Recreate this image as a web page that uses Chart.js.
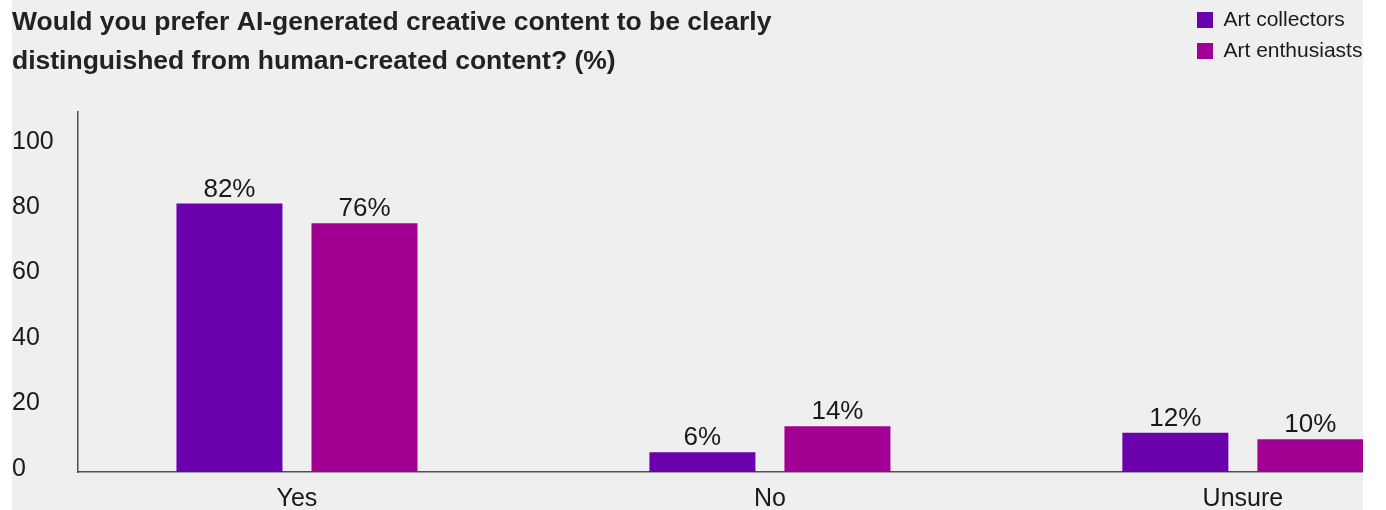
<!DOCTYPE html>
<html>
<head>
<meta charset="utf-8">
<script src="https://cdn.jsdelivr.net/npm/chart.js@4/dist/chart.umd.min.js"></script>
<style>
  html, body { margin: 0; padding: 0; background: #ffffff; }
  #panel {
    position: absolute; left: 12px; top: 0; width: 1351px; height: 510px;
    background: #efefef; overflow: hidden;
  }
  canvas { display: block; }
</style>
</head>
<body>
<div id="panel"><canvas id="chart" width="1351" height="510"></canvas></div>
<script>
// Survey answers, in percent
const categories = ['Yes', 'No', 'Unsure'];
const collectors = [82, 6, 12];
const enthusiasts = [76, 14, 10];
const seriesNames = ['Art collectors', 'Art enthusiasts'];
const titleLines = [
  'Would you prefer AI-generated creative content to be clearly',
  'distinguished from human-created content? (%)'
];

const FONT = '"Liberation Sans", Arial, Helvetica, sans-serif';
const INK = '#1a1a1a';
const AXIS = '#4f4f4f';

// Percent labels above each bar
const barValueLabels = {
  id: 'barValueLabels',
  afterDatasetsDraw(chart) {
    const ctx = chart.ctx;
    ctx.save();
    ctx.font = '26px ' + FONT;
    ctx.fillStyle = INK;
    ctx.textAlign = 'center';
    ctx.textBaseline = 'alphabetic';
    chart.data.datasets.forEach((ds, di) => {
      const meta = chart.getDatasetMeta(di);
      meta.data.forEach((bar, i) => {
        ctx.fillText(ds.data[i] + '%', bar.x, bar.y - 7);
      });
    });
    ctx.restore();
  }
};

// Keeps the legend stacked in the top-right corner, beside the title
const legendCorner = {
  id: 'legendCorner',
  afterLayout(chart) {
    const lg = chart.legend;
    if (!lg) return;
    const w = lg.width, h = lg.height;
    lg.left = chart.width - 176;
    lg.top = -0.5;
    lg.right = lg.left + w;
    lg.bottom = lg.top + h;
  }
};

new Chart(document.getElementById('chart'), {
  type: 'bar',
  data: {
    labels: categories,
    datasets: [
      { label: seriesNames[0], data: collectors, backgroundColor: '#6b00ad', borderWidth: 0 },
      { label: seriesNames[1], data: enthusiasts, backgroundColor: '#a20092', borderWidth: 0 }
    ]
  },
  options: {
    responsive: false,
    animation: false,
    devicePixelRatio: 1,
    layout: { padding: 0 },
    datasets: {
      bar: { categoryPercentage: 0.571, barPercentage: 0.785 }
    },
    scales: {
      x: {
        type: 'category',
        offset: true,
        grid: { display: false, drawTicks: false },
        border: { display: true, color: AXIS, width: 1.5 },
        ticks: { color: INK, font: { family: FONT, size: 25 }, padding: 12, maxRotation: 0, autoSkip: false },
        // the plot runs past the right edge of the panel, so the last group is cut off there
        afterBuildTicks(axis) {
          axis._startValue = -0.463;
          axis._valueRange = 2.717;
        },
        afterFit(axis) { axis.height = 38; }
      },
      y: {
        min: 0,
        max: 110,
        grid: { display: false, drawTicks: false },
        border: { display: true, color: AXIS, width: 1.5 },
        ticks: {
          stepSize: 20,
          includeBounds: false,
          color: INK,
          font: { family: FONT, size: 25 },
          crossAlign: 'far',
          labelOffset: -3,
          padding: 8
        },
        afterFit(axis) { axis.width = 66; }
      }
    },
    plugins: {
      title: {
        display: true,
        text: titleLines,
        align: 'start',
        color: '#222222',
        font: { family: FONT, size: 26.5, weight: 'bold', lineHeight: 1.47 },
        padding: { top: 3, bottom: 31 }
      },
      legend: {
        display: true,
        position: 'chartArea',
        align: 'start',
        labels: {
          boxWidth: 16,
          boxHeight: 16,
          padding: 10,
          color: INK,
          font: { family: FONT, size: 21 }
        }
      },
      tooltip: { enabled: false }
    }
  },
  plugins: [barValueLabels, legendCorner]
});
</script>
</body>
</html>
